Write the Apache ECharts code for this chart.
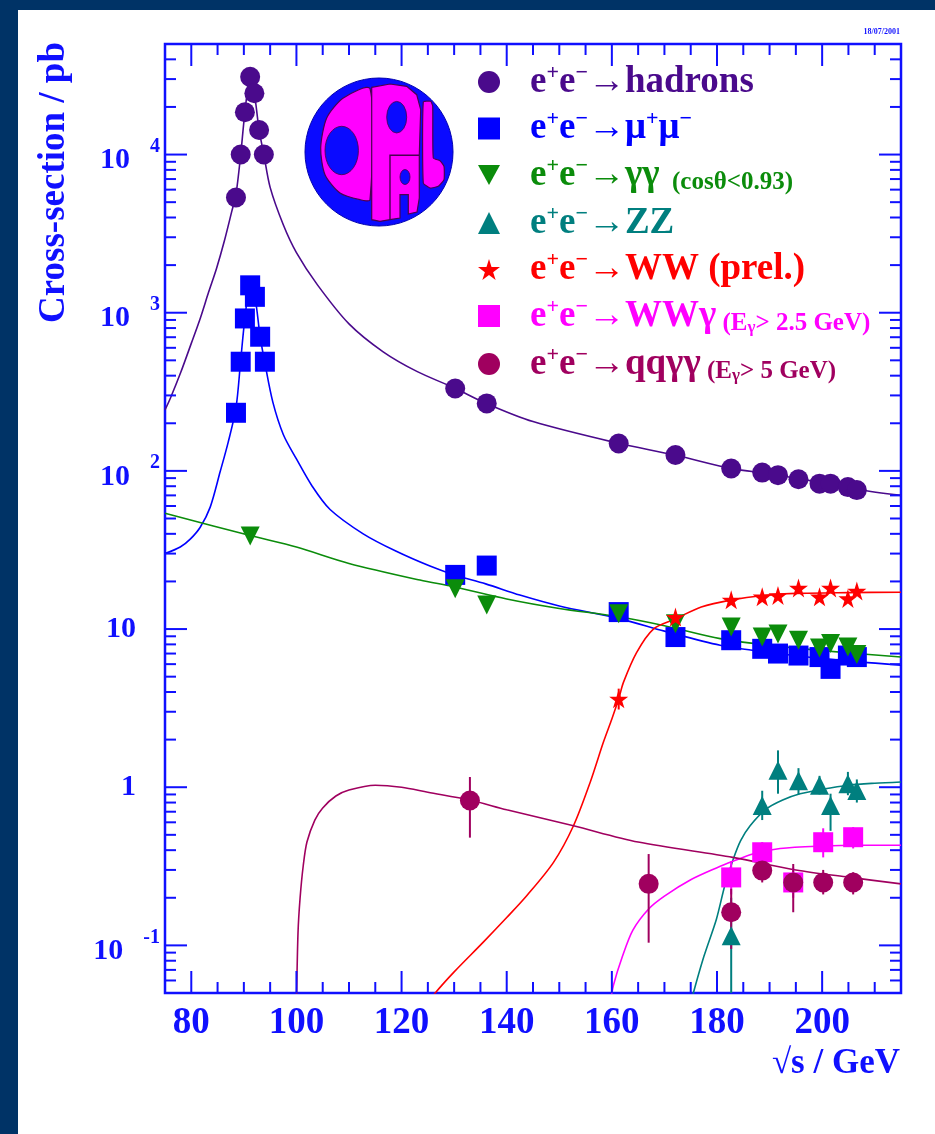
<!DOCTYPE html>
<html>
<head>
<meta charset="utf-8">
<script src="https://cdn.jsdelivr.net/npm/echarts@6/dist/echarts.min.js"></script>
<style>
  html, body { margin: 0; padding: 0; background: #ffffff; }
  #chart { width: 935px; height: 1134px; }
</style>
</head>
<body>
<div id="chart"></div>
<script>
// ---- Measured cross-sections: [sqrt(s) / GeV, sigma / pb] ----
const hadrons = [[88.5, 5350], [89.4, 10000], [90.2, 18500], [91.2, 31000], [92.0, 24400], [92.9, 14300], [93.8, 10000],
  [130.2, 332], [136.2, 267], [161.3, 149], [172.1, 126], [182.7, 103.5], [188.6, 97.6], [191.6, 94],
  [195.5, 88.5], [199.5, 83], [201.6, 83], [204.9, 79], [206.6, 75.6]];
const mumu = [[88.5, 233], [89.4, 490], [90.2, 920], [91.2, 1490], [92.1, 1260], [93.1, 705], [94.0, 490],
  [130.2, 22], [136.2, 25.2], [161.3, 12.8], [172.1, 8.9], [182.7, 8.5], [188.6, 7.5], [191.6, 7.0],
  [195.5, 6.8], [199.5, 6.65], [201.6, 5.6], [204.9, 6.8], [206.6, 6.65]];
const gammagamma = [[91.2, 38.8], [130.2, 18.0], [136.2, 14.2], [161.3, 12.5], [172.1, 10.8], [182.7, 10.3],
  [188.6, 8.9], [191.6, 9.3], [195.5, 8.5], [199.5, 7.6], [201.6, 8.1], [204.9, 7.7], [206.6, 6.9]];
const zz = [[182.7, 0.115], [188.6, 0.766], [191.6, 1.28], [195.5, 1.10], [199.5, 1.03], [201.6, 0.766],
  [204.9, 1.05], [206.6, 0.953]];
const ww = [[161.3, 3.62], [172.1, 11.9], [182.7, 15.3], [188.6, 16.0], [191.6, 16.3], [195.5, 18.2],
  [199.5, 16.0], [201.6, 18.2], [204.9, 15.6], [206.6, 17.4]];
const wwgamma = [[182.7, 0.269], [188.6, 0.388], [194.5, 0.25], [200.2, 0.449], [205.9, 0.483]];
const qqgg = [[133.0, 0.824], [167.0, 0.245], [182.7, 0.162], [188.6, 0.297], [194.5, 0.25], [200.2, 0.25], [205.9, 0.25]];

// ---- Error bars: [sqrt(s), low, high] ----
const wwErr = [[161.3, 3.1, 4.2]];
const zzErr = [[182.7, 0.05, 0.2], [188.6, 0.62, 0.95], [191.6, 0.91, 1.71], [195.5, 0.9, 1.32], [199.5, 0.9, 1.18],
  [201.6, 0.53, 0.91], [204.9, 0.89, 1.25], [206.6, 0.8, 1.12]];
const wwgammaErr = [[182.7, 0.21, 0.34], [188.6, 0.33, 0.45], [194.5, 0.2, 0.31], [200.2, 0.36, 0.55], [205.9, 0.41, 0.56]];
const qqggErr = [[133.0, 0.48, 1.16], [167.0, 0.104, 0.378], [182.7, 0.095, 0.228], [188.6, 0.25, 0.36],
  [194.5, 0.162, 0.327], [200.2, 0.21, 0.30], [205.9, 0.21, 0.29]];

// ---- Standard Model predictions ----
const hadronsCurve = [[75, 243], [76, 287], [78, 420], [80, 640], [81.7, 920], [83.3, 1350], [84.8, 1905], [86.3, 2850],
  [87.7, 4370], [88.5, 5600], [89.4, 10000], [90.2, 18500], [91.2, 31000], [92.0, 24400], [92.9, 14300], [93.8, 10000],
  [95, 6200], [97.5, 3600], [100, 2400], [104, 1500], [110, 850], [116.5, 566], [123, 424], [130, 335], [136, 268],
  [145, 205], [161, 150], [172, 126], [183, 103], [190, 96], [200, 84], [207, 76], [215, 70]];
const mumuCurve = [[75, 30], [77.9, 33], [79.8, 37], [81.7, 44], [83.6, 59], [85.5, 99], [87, 151], [88.5, 250],
  [89.4, 500], [90.2, 920], [91.2, 1490], [92.1, 1260], [93.1, 705], [94.0, 480], [95.5, 273], [97.5, 170],
  [100, 119], [103, 80], [106.4, 57], [112.7, 40], [119, 31], [125.4, 25], [130, 22], [136, 19.3], [142.5, 16.4],
  [150, 14], [161.6, 11.6], [170, 9.7], [180.6, 7.9], [190, 7.1], [200, 6.5], [215, 5.9]];
const gammagammaCurve = [[75, 54], [91.2, 39], [100, 33], [110, 26], [123.5, 20.4], [130, 18.5], [140, 15.5],
  [150, 13.5], [161, 12.0], [170, 10.5], [180.6, 8.7], [190, 7.9], [200, 7.3], [215, 6.65]];
const zzCurve = [[174.8, 0.04], [175.5, 0.05], [177.5, 0.085], [179.9, 0.147], [181.5, 0.24], [183.1, 0.352],
  [184.5, 0.46], [186.3, 0.571], [189.4, 0.729], [192.5, 0.83], [195.8, 0.908], [200, 0.97], [205, 1.03],
  [210, 1.06], [215, 1.08]];
const wwCurve = [[125.5, 0.045], [126.4, 0.05], [130, 0.068], [135.5, 0.1045], [140, 0.15], [143.8, 0.206],
  [148.9, 0.335], [152.7, 0.571], [155.9, 1.08], [158.4, 1.93], [160, 2.7], [161.3, 3.62], [162.2, 4.6],
  [164.7, 7.1], [167.9, 10], [172.1, 11.6], [177, 13.8], [182.8, 15.3], [188.8, 16.3], [195, 16.8],
  [205, 17.0], [215, 17.1]];
const wwgammaCurve = [[159.8, 0.045], [160.3, 0.056], [162, 0.085], [164, 0.125], [167, 0.17], [170, 0.205],
  [175, 0.26], [180, 0.31], [183, 0.34], [187, 0.38], [192, 0.41], [200, 0.425], [207, 0.43], [215, 0.43]];
const qqggCurve = [[100.0, 0.04], [100.3, 0.12], [100.7, 0.2], [101.3, 0.32], [102, 0.45], [103.5, 0.62],
  [105, 0.74], [107.5, 0.88], [110, 0.96], [115, 1.03], [120, 1.0], [125, 0.93], [133, 0.83], [140, 0.72],
  [152.7, 0.57], [165, 0.45], [183, 0.36], [195, 0.3], [205, 0.27], [215, 0.245]];

// ---- Axes ----
const X_MIN = 75, X_MAX = 215, Y_MIN = 0.05, Y_MAX = 50000;
const xTickLabels = [80, 100, 120, 140, 160, 180, 200];
const yTickLabels = [
  { value: 10000, base: '10', sup: '4' },
  { value: 1000, base: '10', sup: '3' },
  { value: 100, base: '10', sup: '2' },
  { value: 10, base: '10', sup: '' },
  { value: 1, base: '1', sup: '' },
  { value: 0.1, base: '10', sup: '-1' }
];

const AXIS = '#1010ff';
const SERIF = '"Liberation Serif", "DejaVu Serif", serif';
const C = {
  hadrons: '#4a0a8c', mumu: '#0000ff', gg: '#0b8c0b', zz: '#007f7f',
  ww: '#ff0000', wwg: '#ff00ff', qqgg: '#a0005f'
};
const STAR = 'path://M50,0 L61,35 L98,35 L68,57 L79,91 L50,70 L21,91 L32,57 L2,35 L39,35 Z';
const DOWN_TRI = 'path://M0,0 L100,0 L50,90 Z';

const measure = (() => {
  const ctx = document.createElement('canvas').getContext('2d');
  return (text, font) => { ctx.font = font; return ctx.measureText(text).width; };
})();

function curve(name, data, color) {
  return {
    type: 'line', name, data, smooth: 0.3, showSymbol: false, symbol: 'none',
    lineStyle: { color, width: 1.6 }, itemStyle: { color }, z: 2, silent: true, clip: true
  };
}
function points(name, data, color, symbol, size, rotate) {
  return {
    type: 'scatter', name, data, symbol, symbolSize: size, symbolRotate: rotate || 0,
    itemStyle: { color, opacity: 1 }, z: 4, silent: true
  };
}
function errorBars(data, color) {
  return {
    type: 'custom', data, clip: true, z: 3, silent: true, encode: { x: 0, y: [1, 2] },
    renderItem: (params, api) => {
      const x = api.value(0);
      const a = api.coord([x, api.value(1)]);
      const b = api.coord([x, api.value(2)]);
      return { type: 'line', shape: { x1: a[0], y1: a[1], x2: b[0], y2: b[1] }, style: { stroke: color, lineWidth: 2 } };
    }
  };
}

// Frame ticks (both sides, log minor ticks at 2..9) and tick labels
function renderAxes(params, api) {
  const children = [];
  const bl = api.coord([X_MIN, Y_MIN]);
  const tr = api.coord([X_MAX, Y_MAX]);
  const x0 = bl[0], yb = bl[1], x1 = tr[0], yt = tr[1];
  const tick = (ax, ay, bx, by) => children.push({
    type: 'line', shape: { x1: ax, y1: ay, x2: bx, y2: by }, style: { stroke: AXIS, lineWidth: 2 }
  });
  for (let e = X_MIN; e <= X_MAX; e += 5) {
    const len = e % 20 === 0 ? 22 : 11;
    const x = api.coord([e, Y_MIN])[0];
    tick(x, yb, x, yb - len);
    tick(x, yt, x, yt + len);
  }
  for (let d = -2; d <= 4; d++) {
    for (let m = 1; m <= 9; m++) {
      const v = m * Math.pow(10, d);
      if (v < Y_MIN * 0.999 || v > Y_MAX * 1.001) continue;
      const y = api.coord([X_MIN, v])[1];
      const len = m === 1 ? 22 : 11;
      tick(x0, y, x0 + len, y);
      tick(x1, y, x1 - len, y);
    }
  }
  const xFont = 'bold 37px ' + SERIF;
  xTickLabels.forEach(v => {
    const x = api.coord([v, Y_MIN])[0];
    children.push({ type: 'text', x, y: yb + 30, style: { text: String(v), font: xFont, fill: AXIS, align: 'center', verticalAlign: 'middle' } });
  });
  const baseFont = 'bold 30px ' + SERIF;
  const supFont = 'bold 20px ' + SERIF;
  yTickLabels.forEach(l => {
    const y = api.coord([X_MIN, l.value])[1];
    if (l.sup) {
      const supRight = x0 - 5;
      const supW = measure(l.sup, supFont);
      children.push({ type: 'text', x: supRight, y: y - 8, style: { text: l.sup, font: supFont, fill: AXIS, align: 'right', verticalAlign: 'middle' } });
      children.push({ type: 'text', x: supRight - supW - 20, y: y + 6, style: { text: l.base, font: baseFont, fill: AXIS, align: 'right', verticalAlign: 'middle' } });
    } else {
      children.push({ type: 'text', x: x0 - 29, y: y, style: { text: l.base, font: baseFont, fill: AXIS, align: 'right', verticalAlign: 'middle' } });
    }
  });
  return { type: 'group', children };
}

// Legend text with superscripts / subscripts
const legendOrder = ['hadrons', 'mumu', 'gg', 'zz', 'ww', 'wwg', 'qqgg'];
const legendText = {
  hadrons: ['→hadrons', null],
  mumu: ['→μ', 'mu'],
  gg: ['→γγ', 'gg'],
  zz: ['→ZZ', null],
  ww: ['→WW (prel.)', null],
  wwg: ['→WWγ', 'wwg'],
  qqgg: ['→qqγγ', 'qqgg']
};
const rich = { sp: { width: 25, fontSize: 10 } };
legendOrder.forEach((k, i) => {
  const col = C[k];
  rich['m' + i] = { color: col, fontFamily: SERIF, fontWeight: 'bold', fontSize: 37, lineHeight: 40 };
  rich['p' + i] = { color: col, fontFamily: SERIF, fontWeight: 'bold', fontSize: 22, lineHeight: 4, verticalAlign: 'top' };
  rich['s' + i] = { color: col, fontFamily: SERIF, fontWeight: 'bold', fontSize: 25, lineHeight: 32, verticalAlign: 'bottom' };
  rich['b' + i] = { color: col, fontFamily: SERIF, fontWeight: 'bold', fontSize: 17, lineHeight: 12, verticalAlign: 'bottom' };
});
function legendFormatter(name) {
  const i = legendOrder.indexOf(name);
  const m = t => '{m' + i + '|' + t + '}';
  const p = t => '{p' + i + '|' + t + '}';
  const s = t => '{s' + i + '|' + t + '}';
  const b = t => '{b' + i + '|' + t + '}';
  let out = '{sp| }' + m('e') + p('+') + m('e') + p('−');
  const [main, extra] = legendText[name];
  out += m(main);
  if (extra === 'mu') out += p('+') + m('μ') + p('−');
  if (extra === 'gg') out += s('  (cosθ<0.93)');
  if (extra === 'wwg') out += s(' (E') + b('γ') + s('> 2.5 GeV)');
  if (extra === 'qqgg') out += s(' (E') + b('γ') + s('> 5 GeV)');
  return out;
}
const legendIcons = { hadrons: 'circle', mumu: 'rect', gg: DOWN_TRI, zz: 'triangle', ww: STAR, wwg: 'rect', qqgg: 'circle' };

// OPAL logo drawn as vector shapes (local coordinates around its centre)
const LOGO_BLUE = '#0a0aff', LOGO_PINK = '#ff00ff', LOGO_EDGE = '#4a0050';
function ellipse(cx, cy, rx, ry) {
  return {
    type: 'circle', x: cx, y: cy, scaleX: rx / ry, scaleY: 1,
    shape: { cx: 0, cy: 0, r: ry },
    style: { fill: LOGO_BLUE, stroke: LOGO_EDGE, lineWidth: 1, strokeNoScale: true }
  };
}
const logo = {
  type: 'group', x: 379, y: 152, silent: true,
  children: [
    { type: 'circle', shape: { cx: 0, cy: 0, r: 74 }, style: { fill: LOGO_BLUE, stroke: '#0000b0', lineWidth: 1 } },
    { type: 'polygon', shape: { points: [[-9, -63.3], [-35.7, -54], [-52.3, -34], [-58.3, -4], [-54, 22.7], [-39, 41], [-19, 47.7], [-9, 47.7]], smooth: 0.25 },
      style: { fill: LOGO_PINK, stroke: LOGO_EDGE, lineWidth: 1.2 } },
    ellipse(-37.3, -1.5, 16.7, 24.2),
    { type: 'polygon', shape: { points: [[-7.3, -64.7], [11, -68], [27.7, -65.7], [37.7, -57.3], [41.7, -42.3], [41, -20.7], [40.3, 2.7], [40.3, 46], [38, 60],
      [29.3, 62], [29.3, 42.7], [21, 42.7], [21, 66], [11, 67.7], [1, 69.3], [-7.3, 67.7]] },
      style: { fill: LOGO_PINK, stroke: LOGO_EDGE, lineWidth: 1.2 } },
    ellipse(17.7, -34.8, 10, 15.8),
    ellipse(26, 25, 5, 7.5),
    { type: 'polyline', shape: { points: [[40.3, 3.3], [11, 3.3], [11, 67.7]] }, style: { stroke: LOGO_EDGE, lineWidth: 1.4, fill: null } },
    { type: 'polygon', shape: { points: [[44.3, -50], [51.7, -50.7], [53.7, -45.7], [54.3, 6], [61, 8.7], [65, 14.3], [65, 27.7], [59.3, 34.3], [51, 36], [44.3, 31]], smooth: 0.15 },
      style: { fill: LOGO_PINK, stroke: LOGO_EDGE, lineWidth: 1.2 } }
  ]
};

const chart = echarts.init(document.getElementById('chart'), null, { renderer: 'canvas' });
chart.setOption({
  animation: false,
  backgroundColor: '#ffffff',
  grid: {
    left: 165, right: 34, top: 44, bottom: 141, containLabel: false, outerBoundsMode: 'none',
    show: true, borderColor: AXIS, borderWidth: 2.5, backgroundColor: 'transparent'
  },
  xAxis: {
    type: 'value', min: X_MIN, max: X_MAX,
    axisLine: { show: false }, axisTick: { show: false }, axisLabel: { show: false }, splitLine: { show: false }
  },
  yAxis: {
    type: 'log', logBase: 10, min: Y_MIN, max: Y_MAX,
    axisLine: { show: false }, axisTick: { show: false }, axisLabel: { show: false }, splitLine: { show: false }, minorTick: { show: false }
  },
  legend: {
    left: 478, top: 62, orient: 'vertical', padding: 0, itemGap: 8, itemWidth: 22, itemHeight: 22,
    selectedMode: false,
    data: legendOrder.map(k => ({ name: k, icon: legendIcons[k] })),
    formatter: legendFormatter,
    textStyle: { fontFamily: SERIF, fontWeight: 'bold', fontSize: 37, rich }
  },
  graphic: [
    { type: 'rect', left: 0, top: 0, shape: { width: 18, height: 1134 }, style: { fill: '#003366' }, silent: true },
    { type: 'rect', left: 0, top: 0, shape: { width: 935, height: 10 }, style: { fill: '#003366' }, silent: true },
    logo,
    { type: 'text', x: 900, y: 1064, silent: true,
      style: { text: '√s / GeV', font: 'bold 35px ' + SERIF, fill: AXIS, align: 'right', verticalAlign: 'middle' } },
    { type: 'text', x: 54, y: 42, rotation: Math.PI / 2, silent: true,
      style: { text: 'Cross-section / pb', font: 'bold 37px ' + SERIF, fill: AXIS, align: 'right', verticalAlign: 'middle' } },
    { type: 'text', x: 900, y: 36, silent: true,
      style: { text: '18/07/2001', font: 'bold 8px ' + SERIF, fill: AXIS, align: 'right', verticalAlign: 'bottom' } }
  ],
  series: [
    curve('hadrons fit', hadronsCurve, C.hadrons),
    curve('mumu fit', mumuCurve, C.mumu),
    curve('gg fit', gammagammaCurve, C.gg),
    curve('zz fit', zzCurve, C.zz),
    curve('ww fit', wwCurve, C.ww),
    curve('wwg fit', wwgammaCurve, C.wwg),
    curve('qqgg fit', qqggCurve, C.qqgg),
    errorBars(wwErr, C.ww),
    errorBars(zzErr, C.zz),
    errorBars(wwgammaErr, C.wwg),
    errorBars(qqggErr, C.qqgg),
    points('hadrons', hadrons, C.hadrons, 'circle', 20),
    points('mumu', mumu, C.mumu, 'rect', 20),
    points('gg', gammagamma, C.gg, 'triangle', 19, 180),
    points('zz', zz, C.zz, 'triangle', 19),
    points('ww', ww, C.ww, STAR, 19),
    points('wwg', wwgamma, C.wwg, 'rect', 20),
    points('qqgg', qqgg, C.qqgg, 'circle', 20),
    {
      type: 'custom', name: 'frame', data: [[100, 1]], encode: { x: 0, y: 1 }, clip: false, z: 5, silent: true,
      renderItem: renderAxes
    }
  ]
});
</script>
</body>
</html>
